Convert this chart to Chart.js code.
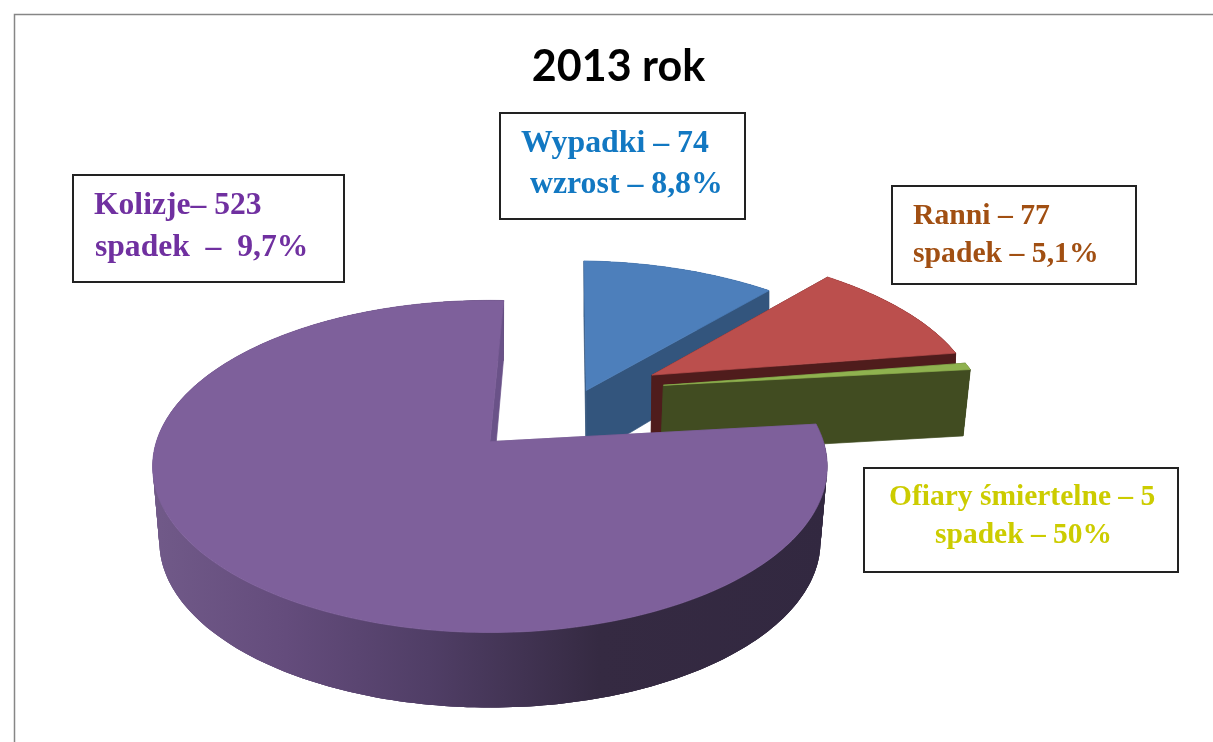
<!DOCTYPE html>
<html lang="pl">
<head>
<meta charset="utf-8">
<style>html,body{margin:0;padding:0;background:#fff}#wrap{width:1213px;height:742px}</style>
<script src="https://cdn.jsdelivr.net/npm/chart.js@4/dist/chart.umd.min.js"></script>
</head>
<body>
<div id="wrap"><canvas id="c" width="1213" height="742"></canvas></div>
<script>
const categories = ['Wypadki', 'Ranni', 'Ofiary śmiertelne', 'Kolizje'];
const values = [74, 77, 5, 523];
const explosion = [2, 26, 26, 41];
const topColors = ['#4d7fbb', '#bb4f4d', '#8fb24f', '#7e609b'];
const sideColors = ['#33557d', '#4f1c1c', '#414c21', null];
const titleText = '2013 rok';
const calloutLines = [
  ['Wypadki – 74', 'wzrost – 8,8%'],
  ['Ranni – 77', 'spadek – 5,1%'],
  ['Ofiary śmiertelne – 5', 'spadek – 50%'],
  ['Kolizje– 523', 'spadek  –  9,7%']
];
const calloutColors = ['#1278c2', '#a14f12', '#cccc00', '#7030a0'];

// view of the tilted disc
const VIEW = {cx: 490, cy: 441, a: 335, b: 163, p: 0.15, ox: 0.288, oy: -0.293};
const SLICE_VIEW = [
  {nx: 0.006, ny: -0.013, shrink: 1, r: 1},
  {nx: 0, ny: -0.01, shrink: 0.995, r: 1.01},
  {nx: 0, ny: -0.033, shrink: 0.985, r: 0.995},
  {nx: -0.012, ny: -0.006, shrink: 0.98, r: 0.995}
];
function project(X, Y) {
  const w = 1 - VIEW.p * Y;
  return [VIEW.cx + VIEW.a * X / w, VIEW.cy + VIEW.b * Y / w];
}
function lower(pt, shrink) {
  const depth = Math.min(75, 75 + (pt[1] - 465) * 0.09);
  return [VIEW.cx + (pt[0] - VIEW.cx) * shrink, pt[1] + depth];
}
// small correction of the apparent angle caused by the tilt of the 3D view
function warp(t) {
  const u = (t + Math.PI / 2) * 180 / Math.PI;
  let d = 0;
  if (u < 40) d = 1 + 0.5 * Math.max(u, 0) / 40;
  else if (u < 82) d = 1.5 * (82 - u) / 42;
  else if (u > 200) d = 1.7 * (u - 200) / 160;
  return t + d * Math.PI / 180;
}
const BOXES = [
  {x: 500, y: 113, w: 245, h: 106, t: [[521, 152], [530, 193]], fs: 31.8},
  {x: 892, y: 186, w: 244, h: 98, t: [[913, 224], [913, 262]], fs: 29.7},
  {x: 864, y: 468, w: 314, h: 104, t: [[889, 505], [935, 543]], fs: 29.5},
  {x: 73, y: 175, w: 271, h: 107, t: [[94, 214], [95, 256]], fs: 31.6}
];

function polygon(ctx, pts, fill, stroke) {
  ctx.beginPath();
  pts.forEach((q, i) => i ? ctx.lineTo(q[0], q[1]) : ctx.moveTo(q[0], q[1]));
  ctx.closePath();
  ctx.fillStyle = fill;
  ctx.fill();
  if (stroke) {
    ctx.strokeStyle = fill;
    ctx.lineWidth = 0.7;
    ctx.stroke();
  }
}

const pie3d = {
  id: 'pie3d',
  beforeDraw(chart) {
    const ctx = chart.ctx;
    ctx.save();
    ctx.strokeStyle = '#868686';
    ctx.lineWidth = 1.5;
    ctx.beginPath();
    ctx.moveTo(14.5, 742);
    ctx.lineTo(14.5, 14.5);
    ctx.lineTo(1213, 14.5);
    ctx.stroke();
    ctx.restore();
  },
  beforeDatasetsDraw(chart) {
    const ctx = chart.ctx;
    const arcs = chart.getDatasetMeta(0).data;
    ctx.save();
    const grad = ctx.createLinearGradient(150, 0, 830, 0);
    grad.addColorStop(0, '#715a89');
    grad.addColorStop(0.2, '#644c7c');
    grad.addColorStop(0.41, '#503e66');
    grad.addColorStop(0.66, '#352a42');
    grad.addColorStop(1, '#322840');
    arcs.forEach((arc, i) => {
      const s = arc.startAngle, e = arc.endAngle, mid = (s + e) / 2;
      const off = explosion[i] / 100, sv = SLICE_VIEW[i];
      const ax = VIEW.ox + sv.nx + off * Math.cos(mid), ay = VIEW.oy + sv.ny + off * Math.sin(mid);
      const apex = project(ax, ay);
      const n = Math.max(2, Math.ceil((e - s) / 0.02));
      const rim = [];
      for (let k = 0; k <= n; k++) {
        const t = warp(s + (e - s) * k / n);
        rim.push(project(ax + sv.r * Math.cos(t), ay + sv.r * Math.sin(t)));
      }
      const low = p => lower(p, sv.shrink);
      const side = sideColors[i] || grad;
      for (let k = 0; k < n; k++) {
        const j = Math.min(k + 3, n);
        const a = rim.slice(k, j + 1);
        polygon(ctx, a.concat(a.map(low).reverse()), side, false);
      }
      const radial = i === 3 ? '#6a5288' : side;
      polygon(ctx, [apex, rim[0], low(rim[0]), low(apex)], radial, true);
      polygon(ctx, [apex, rim[n], low(rim[n]), low(apex)], radial, true);
      polygon(ctx, [apex].concat(rim), arc.options.backgroundColor, true);
    });
    ctx.restore();
    return false;
  },
  afterDraw(chart) {
    const ctx = chart.ctx;
    ctx.save();
    ctx.textBaseline = 'alphabetic';
    ctx.textAlign = 'left';
    BOXES.forEach((b, i) => {
      ctx.fillStyle = '#fff';
      ctx.fillRect(b.x, b.y, b.w, b.h);
      ctx.strokeStyle = '#222';
      ctx.lineWidth = 2;
      ctx.strokeRect(b.x, b.y, b.w, b.h);
      ctx.fillStyle = calloutColors[i];
      ctx.font = 'bold ' + b.fs + 'px "Liberation Serif"';
      calloutLines[i].forEach((line, j) => {
        ctx.fillText(line, b.t[j][0], b.t[j][1]);
      });
    });
    ctx.restore();
  }
};

new Chart(document.getElementById('c'), {
  type: 'pie',
  data: {
    labels: categories,
    datasets: [{data: values, backgroundColor: topColors, borderWidth: 0, offset: explosion}]
  },
  options: {
    responsive: false,
    animation: false,
    rotation: 1,
    layout: {padding: {left: 24, top: 41}},
    events: [],
    plugins: {
      legend: {display: false},
      tooltip: {enabled: false},
      title: {
        display: true,
        text: titleText,
        color: '#000',
        font: {family: 'Lato', weight: 'bold', size: 43},
        padding: {top: 0, bottom: 10}
      }
    }
  },
  plugins: [pie3d]
});
</script>
</body>
</html>
